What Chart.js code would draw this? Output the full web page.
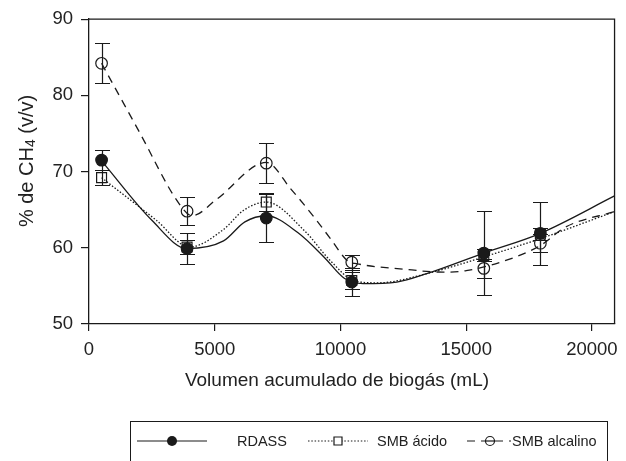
<!DOCTYPE html>
<html>
<head>
<meta charset="utf-8">
<script src="https://cdn.jsdelivr.net/npm/chart.js@4.4.0/dist/chart.umd.min.js"></script>
<style>
  html, body { margin: 0; padding: 0; background: #fff; }
</style>
</head>
<body>
<canvas id="chart" width="626" height="461"></canvas>
<script>
const volX = [500, 3900, 7050, 10450, 15700, 17950];
const rdassY = [71.5, 59.9, 63.9, 55.5, 59.3, 61.9];
const rdassErr = [1.3, 2.0, 3.1, 1.8, 5.5, 4.1];
const acidoY = [69.2, 60.1, 66.0, 55.7, 59.0, 61.8];
const acidoErr = [1.0, 0.9, 1.2, 1.1, 0.8, 0.8];
const alcalinoY = [84.2, 64.8, 71.1, 58.1, 57.3, 60.6];
const alcalinoErr = [2.6, 1.8, 2.6, 1.0, 1.2, 1.2];

// Fitted curves
const rdassFitX = [500, 2500, 3900, 5350, 6200, 7050, 8300, 9370, 10150, 10900, 12240, 13430, 15700, 17950, 20900];
const rdassFitY = [71.4, 63.6, 59.9, 60.9, 63.4, 64.2, 62.0, 58.7, 56.0, 55.3, 55.5, 56.6, 59.3, 61.9, 66.8];
const acidoFitX = [500, 2680, 4000, 5350, 6140, 7050, 8580, 9600, 10600, 11500, 13430, 15700, 17950, 20900];
const acidoFitY = [69.2, 63.6, 60.1, 62.4, 64.9, 66.0, 62.2, 58.3, 55.6, 55.4, 56.6, 58.8, 61.2, 64.75];
const alcalinoFitX = [500, 2000, 3580, 4100, 5090, 7050, 8030, 8980, 9600, 10280, 10670, 12500, 14100, 15000, 16970, 18000, 18940, 20900];
const alcalinoFitY = [84.2, 75.2, 65.8, 64.2, 66.4, 71.2, 67.7, 63.9, 61.2, 58.3, 57.9, 57.2, 56.8, 57.0, 58.8, 60.4, 62.7, 64.75];

const xTicks = [0, 5000, 10000, 15000, 20000];
const xMax = 20900;
const yTicks = [50, 60, 70, 80, 90];

const INK = '#1a1a1a';
const TEXT = '#222';
const FONT = '"Liberation Sans", Arial, sans-serif';
const DOTTED = [1.5, 1.8];
const DASHED = [8, 6];

Chart.defaults.font.family = FONT;
Chart.defaults.font.size = 18.5;
Chart.defaults.color = TEXT;

const pts = (xs, ys) => xs.map((x, i) => ({ x: x, y: ys[i] }));

// vertical error bars, drawn below the markers
const errorBars = {
    id: 'errorBars',
    beforeDatasetsDraw(chart) {
        const { ctx, scales: { x, y } } = chart;
        ctx.save();
        ctx.strokeStyle = INK;
        ctx.lineWidth = 1.2;
        chart.data.datasets.forEach(ds => {
            if (!ds.errors) return;
            ds.data.forEach((p, i) => {
                const px = Math.round(x.getPixelForValue(p.x)) + 0.5;
                const top = Math.round(y.getPixelForValue(p.y + ds.errors[i])) + 0.5;
                const bot = Math.round(y.getPixelForValue(p.y - ds.errors[i])) + 0.5;
                ctx.beginPath();
                ctx.moveTo(px, top); ctx.lineTo(px, bot);
                ctx.moveTo(px - 7.5, top); ctx.lineTo(px + 7.5, top);
                ctx.moveTo(px - 7.5, bot); ctx.lineTo(px + 7.5, bot);
                ctx.stroke();
            });
        });
        ctx.restore();
    }
};

// top and right edges of the plot box
const frame = {
    id: 'frame',
    afterDatasetsDraw(chart) {
        const { ctx, chartArea: a } = chart;
        ctx.save();
        ctx.strokeStyle = INK;
        ctx.lineWidth = 1.3;
        ctx.beginPath();
        ctx.moveTo(a.left, a.top);
        ctx.lineTo(a.right, a.top);
        ctx.lineTo(a.right, a.bottom);
        ctx.stroke();
        ctx.restore();
    }
};

// axis titles (the y one has a real subscript)
const axisTitles = {
    id: 'axisTitles',
    afterDraw(chart) {
        const ctx = chart.ctx;
        ctx.save();
        ctx.fillStyle = TEXT;
        ctx.textBaseline = 'middle';
        ctx.font = '19px ' + FONT;
        ctx.textAlign = 'center';
        ctx.fillText('Volumen acumulado de biogás (mL)', 337, 381);

        // y title, rotated
        const parts = [
            { t: '% de CH', size: 20, dy: 0 },
            { t: '4', size: 14, dy: 4 },
            { t: ' (v/v)', size: 20, dy: 0 }
        ];
        let total = 0;
        parts.forEach(p => { ctx.font = p.size + 'px ' + FONT; p.w = ctx.measureText(p.t).width; total += p.w; });
        ctx.translate(27, 161);
        ctx.rotate(-Math.PI / 2);
        ctx.textAlign = 'left';
        let cx = -total / 2;
        parts.forEach(p => {
            ctx.font = p.size + 'px ' + FONT;
            ctx.fillText(p.t, cx, p.dy);
            cx += p.w;
        });
        ctx.restore();
    }
};

// boxed legend under the axis title
const boxLegend = {
    id: 'boxLegend',
    afterDraw(chart) {
        const ctx = chart.ctx;
        const cy = 441;
        ctx.save();
        ctx.strokeStyle = INK;
        ctx.lineWidth = 1;
        ctx.strokeRect(130.5, 421.5, 477, 60);

        const items = [
            { x0: 137, x1: 207, mx: 172, dash: [], marker: 'dot', label: 'RDASS', tx: 237 },
            { x0: 308, x1: 368, mx: 338, dash: DOTTED, marker: 'square', label: 'SMB ácido', tx: 377 },
            { x0: 467, x1: 511, mx: 490, dash: DASHED, marker: 'ring', label: 'SMB alcalino', tx: 512 }
        ];
        items.forEach(it => {
            ctx.lineWidth = 1.2;
            ctx.setLineDash(it.dash);
            ctx.beginPath();
            ctx.moveTo(it.x0, cy); ctx.lineTo(it.x1, cy);
            ctx.stroke();
            ctx.setLineDash([]);
            ctx.beginPath();
            if (it.marker === 'dot') {
                ctx.fillStyle = INK;
                ctx.arc(it.mx, cy, 5, 0, Math.PI * 2);
                ctx.fill();
            } else if (it.marker === 'square') {
                ctx.fillStyle = '#fff';
                ctx.rect(it.mx - 4, cy - 4, 8, 8);
                ctx.fill();
                ctx.stroke();
            } else {
                ctx.fillStyle = '#fff';
                ctx.arc(it.mx, cy, 4.5, 0, Math.PI * 2);
                ctx.fill();
                ctx.stroke();
                ctx.beginPath();
                ctx.moveTo(it.mx - 4.5, cy); ctx.lineTo(it.mx + 4.5, cy);
                ctx.stroke();
            }
            ctx.fillStyle = TEXT;
            ctx.font = '14.5px ' + FONT;
            ctx.textBaseline = 'middle';
            ctx.textAlign = 'left';
            ctx.fillText(it.label, it.tx, cy + 1);
        });
        ctx.restore();
    }
};

const fitLine = (data, dash) => ({
    type: 'line',
    data: data,
    borderColor: INK,
    borderWidth: 1.3,
    borderDash: dash,
    pointRadius: 0,
    fill: false,
    cubicInterpolationMode: 'monotone',
    order: 2
});

const markers = (data, errors, style, radius, fillColor) => ({
    type: 'line',
    data: data,
    errors: errors,
    showLine: false,
    pointStyle: style,
    pointRadius: radius,
    pointBorderWidth: 1.2,
    pointBorderColor: INK,
    pointBackgroundColor: fillColor,
    order: 1
});

new Chart(document.getElementById('chart'), {
    type: 'line',
    data: {
        datasets: [
            fitLine(pts(rdassFitX, rdassFitY), []),
            fitLine(pts(acidoFitX, acidoFitY), DOTTED),
            fitLine(pts(alcalinoFitX, alcalinoFitY), DASHED),
            markers(pts(volX, alcalinoY), alcalinoErr, 'circle', 5.8, 'rgba(0,0,0,0)'),
            markers(pts(volX, acidoY), acidoErr, 'rect', 7, 'rgba(0,0,0,0)'),
            markers(pts(volX, rdassY), rdassErr, 'circle', 5.8, INK)
        ]
    },
    options: {
        responsive: false,
        animation: false,
        devicePixelRatio: 1,
        layout: { padding: { top: 17, right: 6, left: 0, bottom: 0 } },
        plugins: {
            legend: { display: false },
            tooltip: { enabled: false }
        },
        scales: {
            x: {
                type: 'linear',
                min: 0,
                max: xMax,
                afterFit: s => { s.height = 137; },
                afterBuildTicks: s => { s.ticks = xTicks.map(v => ({ value: v })); },
                ticks: { padding: 8, maxRotation: 0, autoSkip: false, callback: v => String(v) },
                grid: { drawOnChartArea: false, drawTicks: true, tickLength: 7, color: INK, lineWidth: 1.2 },
                border: { display: true, color: INK, width: 1.3 }
            },
            y: {
                min: yTicks[0],
                max: yTicks[yTicks.length - 1],
                afterFit: s => { s.width = 89; },
                afterBuildTicks: s => { s.ticks = yTicks.map(v => ({ value: v })); },
                ticks: { padding: 8, callback: v => String(v) },
                grid: { drawOnChartArea: false, drawTicks: true, tickLength: 8, color: INK, lineWidth: 1.2 },
                border: { display: true, color: INK, width: 1.3 }
            }
        }
    },
    plugins: [errorBars, frame, axisTitles, boxLegend]
});
</script>
</body>
</html>
